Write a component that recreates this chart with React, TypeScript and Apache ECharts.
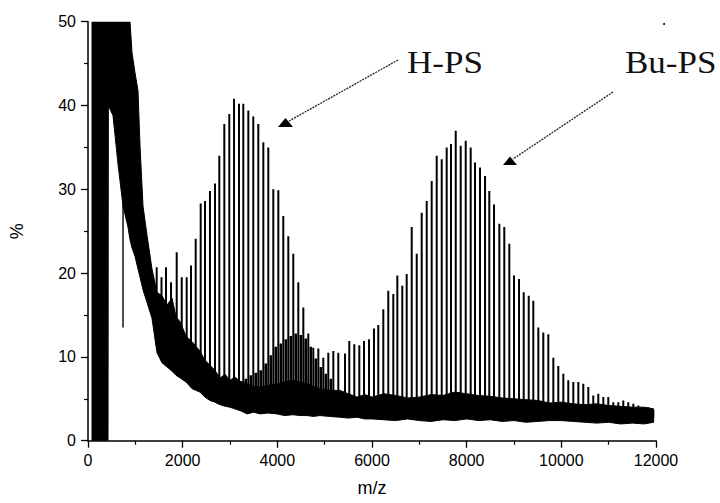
import React, { useEffect, useRef } from 'react';
import * as echarts from 'echarts';

// ---- data ----
const hpsMz = [1451, 1553, 1648, 1754, 1874, 1980, 2085, 2176, 2275, 2381, 2472, 2577, 2683, 2774, 2880, 2985, 3085, 3190, 3281, 3387, 3492, 3598, 3704, 3809, 3915, 4021, 4126, 4232, 4337, 4443, 4549, 4654, 4760, 4866, 4971, 5077, 5183, 5288];
const hpsPct = [20.7, 19.5, 20.7, 18.9, 22.5, 19.5, 19.5, 20.9, 24.1, 28.3, 28.6, 29.8, 30.7, 34, 37.8, 39, 40.8, 40.2, 40.2, 39.4, 38.7, 37.8, 35.6, 35, 30, 29.9, 26.8, 24.4, 22.3, 18.9, 15.9, 12.8, 11.1, 11, 9.9, 10.5, 10.7, 10.5];

// secondary (low) distribution forming the hump under H-PS
const minorMz = [3235, 3335, 3440, 3545, 3650, 3756, 3862, 3968, 4074, 4180, 4285, 4390, 4496, 4600, 4707, 4813, 4918, 5024, 5130];
const minorPct = [7, 7.4, 7.8, 8.1, 8.4, 9.2, 10.2, 11.2, 11.6, 12.1, 12.5, 12.8, 12.6, 12.2, 11.2, 9.8, 8.8, 8, 7.4];

const buMz = [5430, 5520, 5626, 5732, 5831, 5937, 6042, 6133, 6239, 6344, 6450, 6535, 6640, 6733, 6839, 6945, 7050, 7156, 7261, 7367, 7473, 7578, 7669, 7769, 7874, 7980, 8085, 8176, 8282, 8388, 8478, 8578, 8690, 8795, 8901, 9000, 9106, 9205, 9311, 9408, 9514, 9619, 9725, 9831, 9936, 10042, 10147, 10253, 10359, 10464, 10570, 10675, 10781, 10887, 10992, 11098, 11204, 11309, 11415, 11521, 11626, 11732, 11838, 11943];
const buPct = [10.4, 11.9, 11.5, 11.4, 11.9, 12.1, 13.4, 13.8, 15.7, 17.9, 17.5, 19.7, 18.5, 19.9, 25.5, 22.3, 27.2, 28.6, 31, 34, 33.6, 35, 35.4, 37, 35.2, 35.8, 35, 33.2, 32.6, 31.6, 29.8, 28.2, 25.9, 25.5, 23.5, 19.7, 19.3, 17.7, 17.3, 16.7, 13.5, 12.9, 12.7, 9.9, 8.9, 8, 7.2, 7, 7, 6.8, 6.4, 5.4, 5.6, 5.2, 5.2, 4.6, 4.6, 4.8, 4.6, 4.4, 4.2, 3.9, 4, 3.6];

// noisy baseline envelope (lower / upper edge of the dense trace)
const bandMz = [85, 423, 430, 528, 634, 740, 845, 887, 930, 993, 1056, 1099, 1162, 1247, 1352, 1458, 1563, 1670, 1775, 1860, 1944, 2071, 2200, 2366, 2470, 2577, 2680, 2789, 2900, 3000, 3100, 3211, 3359, 3500, 3634, 3800, 3993, 4150, 4331, 4480, 4627, 4760, 4900, 5100, 5324, 5500, 5683, 5850, 6000, 6250, 6500, 6750, 7000, 7250, 7500, 7750, 8000, 8250, 8500, 8750, 9000, 9250, 9500, 9750, 10000, 10250, 10500, 10750, 11000, 11250, 11500, 11750, 11950];
const bandLow = [0, 0, 40, 38.8, 33, 28, 25.5, 24, 23, 22, 20.5, 19.5, 18, 16.5, 14.6, 10.5, 9.3, 8.8, 8.3, 7.8, 7.5, 7, 6.2, 5.8, 5.2, 4.8, 4.6, 4.3, 4.1, 4, 3.8, 3.6, 3.2, 3.4, 3.2, 3.3, 3.2, 3.0, 3.1, 3.0, 3, 2.9, 3, 2.9, 2.8, 2.7, 2.8, 2.6, 2.6, 2.5, 2.4, 2.6, 2.4, 2.3, 2.5, 2.4, 2.6, 2.4, 2.5, 2.3, 2.4, 2.2, 2.3, 2.4, 2.4, 2.3, 2.2, 2.1, 2.2, 2.0, 2.1, 2.0, 2.2];
const bandHigh = [50, 50, 50, 50, 50, 50, 50, 50, 46.3, 43.9, 41.8, 35.2, 28, 24.5, 20.5, 17.7, 17.3, 16.2, 17, 14.8, 14.2, 12.5, 11.8, 10.7, 9.6, 9, 8.4, 7.5, 7.9, 7.2, 7.6, 7.1, 6.8, 6.5, 6.4, 6.6, 6.8, 7.0, 7.2, 7.0, 6.8, 6.5, 6.2, 6.0, 6, 5.6, 5.2, 5.5, 5.2, 5.6, 5.4, 5.1, 5.2, 5.5, 5.4, 5.8, 5.6, 5.4, 5.3, 5.1, 5, 4.9, 4.8, 4.5, 4.6, 4.4, 4.3, 4.4, 4.2, 4.1, 4, 4.0, 3.8];

// downward spike in the matrix region
const dipMz = [740];
const dipPct = [13.5];

function lowAt(m: number): number {
  for (let i = 1; i < bandMz.length; i++) {
    if (m <= bandMz[i]) {
      const t = (m - bandMz[i - 1]) / (bandMz[i] - bandMz[i - 1]);
      return bandLow[i - 1] + t * (bandLow[i] - bandLow[i - 1]);
    }
  }
  return bandLow[bandLow.length - 1];
}

const AXIS_FONT = '"Liberation Sans", Arial, sans-serif';
const LABEL_FONT = '"Liberation Serif", "Times New Roman", serif';

function peakSeries(data: number[][], width: number) {
  return {
    type: 'custom',
    clip: true,
    z: 2,
    data,
    renderItem: (_p: any, api: any) => {
      const m = api.value(0);
      const top = api.coord([m, api.value(1)]);
      const foot = api.coord([m, lowAt(m) + 0.6]);
      return {
        type: 'line',
        shape: { x1: top[0], y1: top[1], x2: foot[0], y2: foot[1] },
        style: { stroke: '#000', lineWidth: width },
      };
    },
  };
}

export default function App() {
  const ref = useRef<HTMLDivElement>(null);
  useEffect(() => {
    document.body.style.margin = '0';
    const chart = echarts.init(ref.current as HTMLDivElement, null, { renderer: 'svg' });
    const peaks = [
      ...hpsMz.map((m, i) => [m, hpsPct[i]]),
      ...buMz.map((m, i) => [m, buPct[i]]),
    ];
    const minor = minorMz.map((m, i) => [m, minorPct[i]]);
    const dips = dipMz.map((m, i) => [m, dipPct[i]]);
    const axisCommon = {
      axisLine: { show: true, lineStyle: { color: '#000', width: 1.5 } },
      axisTick: { show: true, inside: false, length: 7, lineStyle: { color: '#000', width: 1.3 } },
      minorTick: { show: true, splitNumber: 2, length: 4, lineStyle: { color: '#000', width: 1.2 } },
      splitLine: { show: false },
      minorSplitLine: { show: false },
      axisLabel: { color: '#000', fontSize: 16, fontFamily: AXIS_FONT, margin: 12, formatter: (v: number) => String(v) },
      nameTextStyle: { color: '#000', fontSize: 18, fontFamily: AXIS_FONT },
    };
    chart.setOption({
      animation: false,
      backgroundColor: '#fff',
      grid: { left: 88, right: 64, top: 21.7, bottom: 62.3 },
      xAxis: {
        type: 'value', min: 0, max: 12000, interval: 2000,
        name: 'm/z', nameLocation: 'middle', nameGap: 38,
        ...axisCommon,
      },
      yAxis: {
        type: 'value', min: 0, max: 50, interval: 10,
        name: '%', nameLocation: 'middle', nameGap: 62, nameRotate: 90,
        ...axisCommon,
      },
      series: [
        {
          type: 'custom',
          clip: true,
          z: 3,
          data: [[0, 0]],
          renderItem: (_p: any, api: any) => {
            const pts: number[][] = [];
            for (let i = 0; i < bandMz.length; i++) pts.push(api.coord([bandMz[i], bandHigh[i]]));
            for (let i = bandMz.length - 1; i >= 0; i--) pts.push(api.coord([bandMz[i], bandLow[i]]));
            return { type: 'polygon', shape: { points: pts }, style: { fill: '#000', stroke: '#000', lineWidth: 1 } };
          },
        },
        peakSeries(peaks, 2),
        peakSeries(minor, 2.6),
        {
          type: 'custom',
          clip: true,
          z: 2,
          data: dips,
          renderItem: (_p: any, api: any) => {
            const m = api.value(0);
            const bot = api.coord([m, api.value(1)]);
            const up = api.coord([m, lowAt(m) + 2]);
            return {
              type: 'line',
              shape: { x1: bot[0], y1: bot[1], x2: up[0], y2: up[1] },
              style: { stroke: '#000', lineWidth: 1.4 },
            };
          },
        },
      ],
      graphic: [
        { type: 'text', x: 407, y: 62.5, scaleX: 1.13, style: { text: 'H-PS', font: `31px ${LABEL_FONT}`, fill: '#111', verticalAlign: 'middle', align: 'left' } },
        { type: 'text', x: 625, y: 62.5, scaleX: 1.13, style: { text: 'Bu-PS', font: `31px ${LABEL_FONT}`, fill: '#111', verticalAlign: 'middle', align: 'left' } },
        { type: 'line', shape: { x1: 398, y1: 60, x2: 289, y2: 121 }, style: { stroke: '#222', lineWidth: 1.3, lineDash: [2, 1] } },
        { type: 'polygon', shape: { points: [[278, 127], [293, 127], [285.5, 118]] }, style: { fill: '#000' } },
        { type: 'line', shape: { x1: 613, y1: 92, x2: 513, y2: 159 }, style: { stroke: '#222', lineWidth: 1.3, lineDash: [2, 1] } },
        { type: 'polygon', shape: { points: [[503, 165], [517, 165], [510, 156.5]] }, style: { fill: '#000' } },
        { type: 'circle', shape: { cx: 664, cy: 24, r: 1 }, style: { fill: '#000' } },
      ],
    });
    return () => chart.dispose();
  }, []);
  return <div ref={ref} style={{ width: 720, height: 503 }} />;
}
